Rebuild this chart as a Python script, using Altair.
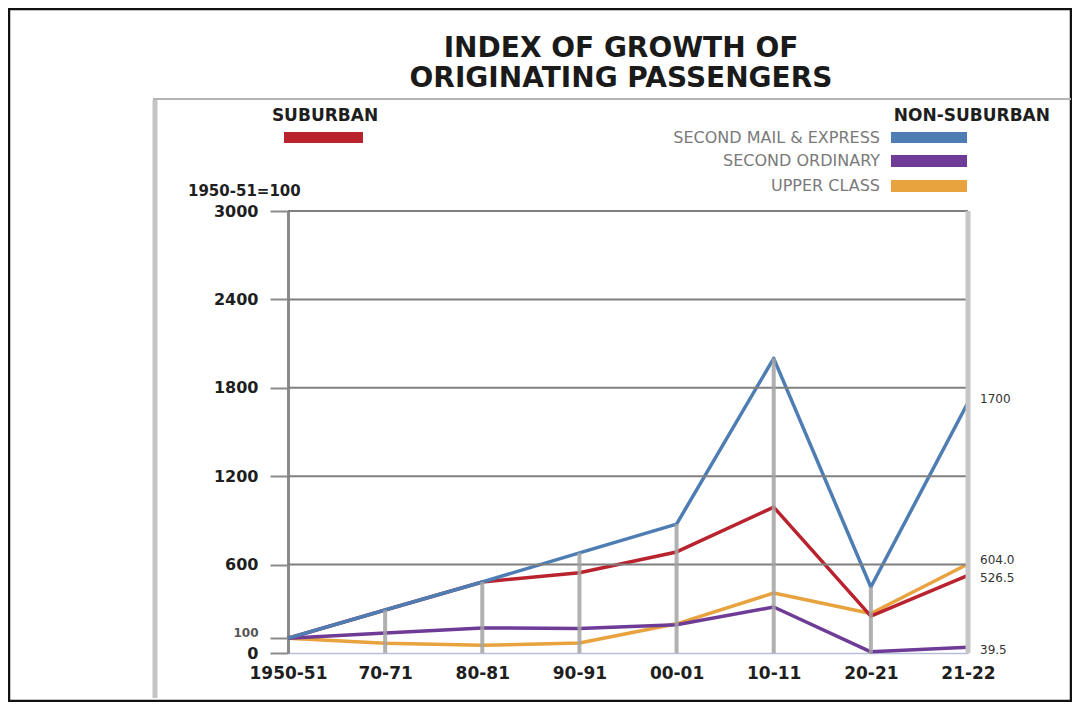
import altair as alt
import pandas as pd

# ---------------- data ----------------
periods = ["1950-51", "70-71", "80-81", "90-91", "00-01", "10-11", "20-21", "21-22"]
suburban = [100, 292, 482, 545, 686, 990, 250, 526.5]
second_mail_express = [100, 292, 482, 680, 875, 2000, 448, 1700]
second_ordinary = [100, 136, 170, 166, 192, 312, 8, 39.5]
upper_class = [100, 66, 52, 68, 198, 407, 268, 604.0]

series_names = ["UPPER CLASS", "SECOND ORDINARY", "SUBURBAN", "SECOND MAIL & EXPRESS"]
series_colors = ["#e8a23e", "#6e3b97", "#b8232e", "#4d7db3"]
end_labels = ["604.0", "39.5", "526.5", "1700"]
upper_end_labels = ["UPPER CLASS", "SECOND MAIL & EXPRESS"]  # labels nudged up

y_ticks = [0, 100, 600, 1200, 1800, 2400, 3000]
grid_values = [600, 1200, 1800, 2400, 3000]

title_lines = ["INDEX OF GROWTH OF", "ORIGINATING PASSENGERS"]
left_heading = "SUBURBAN"
right_heading = "NON-SUBURBAN"
right_labels = ["SECOND MAIL & EXPRESS", "SECOND ORDINARY", "UPPER CLASS"]
base_note = "1950-51=100"

# ---------------- tables ----------------
values_by_series = {
    "UPPER CLASS": upper_class,
    "SECOND ORDINARY": second_ordinary,
    "SUBURBAN": suburban,
    "SECOND MAIL & EXPRESS": second_mail_express,
}
rows = []
for name in series_names:
    for i, (p, v) in enumerate(zip(periods, values_by_series[name])):
        rows.append({"series": name, "period": p, "idx": i, "value": v})
df = pd.DataFrame(rows)

drop_rows = []
for i, p in enumerate(periods[1:-1], start=1):
    top = max(values_by_series[n][i] for n in series_names)
    drop_rows.append({"period": p, "value": 0, "top": top})
drop_df = pd.DataFrame(drop_rows)

end_df = pd.DataFrame({
    "series": series_names,
    "period": [periods[-1]] * len(series_names),
    "value": [values_by_series[n][-1] for n in series_names],
    "label": end_labels,
})
grid_df = pd.DataFrame({"value": grid_values})
one = pd.DataFrame({"a": [0]})

W, H = 680, 442
FONT = "DejaVu Sans"

xscale = alt.Scale(type="point", domain=periods, padding=0)
yscale = alt.Scale(domain=[0, 3000], nice=False, zero=True)
color_scale = alt.Scale(domain=series_names, range=series_colors)

x_axis = alt.Axis(
    title=None, labelAngle=0, ticks=False, domainColor="#b7bfd6", domainWidth=1.5,
    labelFont=FONT, labelFontWeight="bold", labelFontSize=17, labelColor="#1e1e1e",
    labelPadding=12, labelOverlap=False,
)
small_tick = "datum.value === 100"
y_axis = alt.Axis(
    title=None, values=y_ticks, grid=False, tickSize=18, tickColor="#8a8a8a",
    tickWidth=2, domainColor="#8a8a8a", domainWidth=3, labelFont=FONT,
    labelFontWeight="bold",
    labelFontSize={"condition": {"test": small_tick, "value": 12}, "value": 16},
    labelOffset={"condition": {"test": small_tick, "value": -6}, "value": 0},
    labelColor={"condition": {"test": small_tick, "value": "#555555"}, "value": "#1e1e1e"},
    labelPadding=12, format="d", labelOverlap=False,
)
X = alt.X("period:O", scale=xscale, axis=x_axis, title=None)
Y = alt.Y("value:Q", scale=yscale, axis=y_axis, title=None)

# ---------------- layers ----------------
frame = alt.Chart(one).mark_rect(fillOpacity=0, stroke="#111111", strokeWidth=2.5).encode(
    x=alt.value(-279), x2=alt.value(783), y=alt.value(-202), y2=alt.value(490)
)
side_line = alt.Chart(one).mark_rule(color="#c4c4c4", strokeWidth=5).encode(
    x=alt.value(-133), y=alt.value(-111), y2=alt.value(487)
)
top_line = alt.Chart(one).mark_rule(color="#b4b4b4", strokeWidth=2).encode(
    x=alt.value(-135), x2=alt.value(783), y=alt.value(-112)
)

grid = alt.Chart(grid_df).mark_rule(color="#7f7f7f", strokeWidth=2).encode(
    y=Y, x=alt.value(0), x2=alt.value(W)
)
drops = alt.Chart(drop_df).mark_rule(color="#a3a3a3", strokeWidth=4, opacity=0.85).encode(
    x=X, y=Y, y2="top:Q",
)
right_border = alt.Chart(one).mark_rule(color="#c6c6c6", strokeWidth=5).encode(
    x=alt.value(W), y=alt.value(0), y2=alt.value(H)
)

lines = alt.Chart(df).mark_line(strokeWidth=3.5, strokeJoin="round").encode(
    x=X, y=Y,
    color=alt.Color("series:N", scale=color_scale, legend=None),
    order=alt.Order("idx:Q"),
)

end_up = alt.Chart(end_df).transform_filter(
    alt.FieldOneOfPredicate(field="series", oneOf=upper_end_labels)
).mark_text(
    align="left", baseline="middle", dx=12, dy=-4, font=FONT, fontSize=12, color="#333333"
).encode(x=X, y=Y, text="label:N")
end_down = alt.Chart(end_df).transform_filter(
    ~alt.FieldOneOfPredicate(field="series", oneOf=upper_end_labels)
).mark_text(
    align="left", baseline="middle", dx=12, dy=3, font=FONT, fontSize=12, color="#333333"
).encode(x=X, y=Y, text="label:N")


def text_layer(txt, x, y, size, align="center", weight="bold", color="#1e1e1e",
               baseline="middle", line_height=30):
    return alt.Chart(one).mark_text(
        align=align, baseline=baseline, font=FONT, fontSize=size, fontWeight=weight,
        color=color, lineHeight=line_height,
    ).encode(x=alt.value(x), y=alt.value(y), text=alt.value(txt))


def swatch(color, x0, x1, y0, y1):
    return alt.Chart(one).mark_rect(color=color).encode(
        x=alt.value(x0), x2=alt.value(x1), y=alt.value(y0), y2=alt.value(y1)
    )


title = text_layer(title_lines, 333, -154, 28, baseline="alphabetic", color="#1a1a1a")
left_head = text_layer(left_heading, 37, -95, 17)
right_head = text_layer(right_heading, 762, -95, 17, align="right")
note = text_layer(base_note, -100, -20, 15, align="left")

color_of = dict(zip(series_names, series_colors))
left_sw = swatch(color_of["SUBURBAN"], -4, 75, -79, -68)
sw_y = [(-79, -68), (-56, -44), (-31, -19)]
right_items = []
for lab, (y0, y1) in zip(right_labels, sw_y):
    right_items.append(swatch(color_of[lab], 603, 679, y0, y1))
    right_items.append(
        text_layer(lab, 592, (y0 + y1) / 2, 16, align="right", weight="normal", color="#7a7a7a")
    )

chart = alt.layer(
    lines, grid, drops, right_border, frame, side_line, top_line, end_up, end_down,
    title, left_head, right_head, note, left_sw, *right_items,
).properties(
    width=W, height=H,
    autosize=alt.AutoSizeParams(type="none"),
    padding={"left": 280, "top": 203, "right": 104, "bottom": 49},
).configure_view(stroke=None).configure(font=FONT)

chart.save("out.html", embed_options={"renderer": "svg", "actions": False})
